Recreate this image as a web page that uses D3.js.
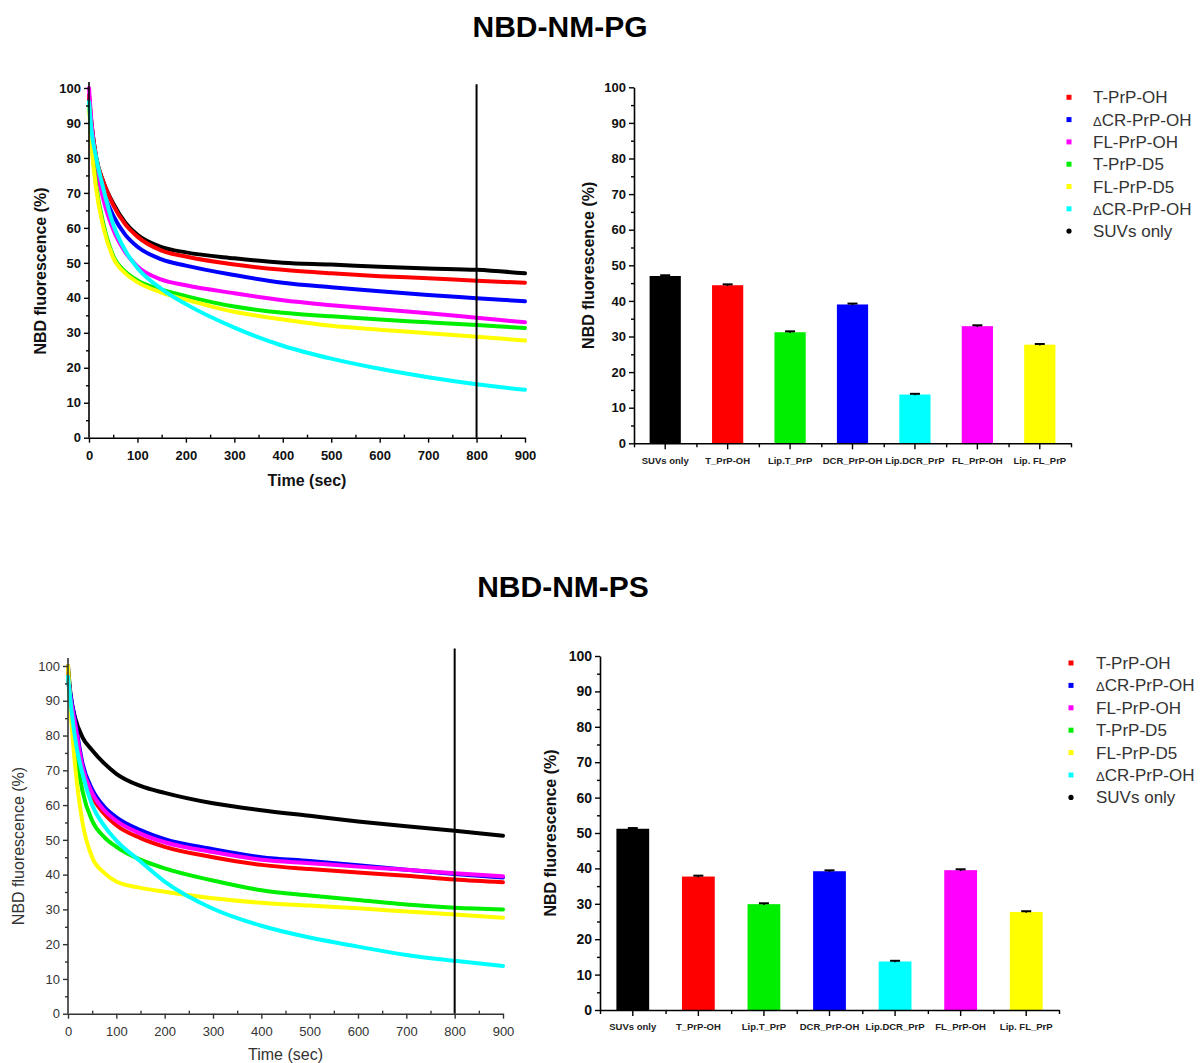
<!DOCTYPE html>
<html>
<head>
<meta charset="utf-8">
<script src="https://cdn.jsdelivr.net/npm/d3@7"></script>
<style>
  body { margin: 0; background: #fff; }
  text { font-family: "Liberation Sans", Arial, sans-serif; }
</style>
</head>
<body>
<div id="chart"></div>
<script>
/* Data */
const times = [0, 5, 15, 30, 50, 75, 100, 150, 200, 300, 400, 500, 600, 700, 800, 900];

// NBD-NM-PG kinetics
const pgSUVs   = [97, 90, 80, 73, 67, 61.5, 58, 54.5, 53, 51.3, 50, 49.5, 48.9, 48.4, 48.0, 47.0];
const pgTOH    = [98, 90, 80, 73, 66.5, 61, 57.5, 53.5, 51.8, 49.5, 48, 47, 46.2, 45.6, 44.9, 44.3];
const pgDCROH  = [96, 88, 77, 70, 63.5, 58, 54.6, 51, 49.2, 46.5, 44.3, 43.0, 41.9, 40.8, 39.9, 39.0];
const pgFLOH   = [100, 90, 78, 68, 59.5, 53, 49, 45.2, 43.6, 41.3, 39.3, 37.9, 36.7, 35.6, 34.3, 33.0];
const pgTD5    = [96, 85, 72, 61, 52, 47.5, 45, 42.3, 40.5, 37.5, 35.7, 34.7, 33.8, 33.0, 32.2, 31.4];
const pgFLD5   = [95, 84, 71, 60, 51.5, 47, 44.5, 41.5, 39.5, 36.0, 33.8, 32.0, 30.9, 29.9, 28.9, 27.8];
const pgDCRLip = [96, 88, 80, 71, 61, 53.5, 48.5, 42.5, 38.2, 31.5, 26.3, 22.6, 19.7, 17.3, 15.3, 13.7];

// NBD-NM-PS kinetics
const psSUVs   = [100, 92, 85, 79.5, 75.8, 72, 69, 65.5, 63.5, 60.5, 58.5, 56.9, 55.3, 53.9, 52.6, 51.2];
const psTOH    = [98, 91, 82, 70, 62.5, 57.5, 54.2, 50.5, 48.0, 45.0, 42.8, 41.6, 40.6, 39.7, 38.6, 37.8];
const psDCROH  = [97, 92, 84, 72, 64.5, 59.5, 56.5, 52.8, 50.2, 47.3, 45.0, 43.9, 42.7, 41.4, 40.2, 39.2];
const psFLOH   = [96, 91, 83, 71, 63.5, 58.5, 55.5, 51.8, 49.3, 46.5, 44.3, 43.3, 42.3, 41.4, 40.4, 39.5];
const psTD5    = [97, 89, 77, 64, 55.5, 50.8, 48, 44.3, 41.8, 38.3, 35.5, 34.0, 32.7, 31.4, 30.5, 30.0];
const psFLD5   = [100, 88, 71, 55, 45, 40.5, 38, 36.2, 35.1, 33.2, 31.9, 31.1, 30.3, 29.4, 28.5, 27.6];
const psDCRLip = [97, 90, 79, 69, 60, 54, 49.8, 43.8, 38.0, 30.2, 25.3, 21.9, 19.3, 16.9, 15.2, 13.7];

// end-point bars
const barCats = ["SUVs only", "T_PrP-OH", "Lip.T_PrP", "DCR_PrP-OH", "Lip.DCR_PrP", "FL_PrP-OH", "Lip. FL_PrP"];
const pgBars = [47.0, 44.4, 31.2, 39.0, 13.7, 32.9, 27.7];
const psBars = [51.2, 37.7, 29.9, 39.2, 13.7, 39.5, 27.7];
const barErr = [0.2, 0.25, 0.25, 0.25, 0.2, 0.25, 0.2];

const legendLabels = ["T-PrP-OH", "\u0394CR-PrP-OH", "FL-PrP-OH", "T-PrP-D5", "FL-PrP-D5", "\u0394CR-PrP-OH", "SUVs only"];

const lineColors = ["#000000", "#ff0000", "#0000ff", "#ff00ff", "#00ee00", "#ffff00", "#00ffff"];
const barColors = ["#000000", "#ff0000", "#00ee00", "#0000ff", "#00ffff", "#ff00ff", "#ffff00"];
const legendColors = ["#ff0000", "#0000ff", "#ff00ff", "#00ee00", "#ffff00", "#00ffff", "#000000"];

const svg = d3.select("#chart").append("svg")
  .attr("width", 1201)
  .attr("height", 1063);

/* Titles */
svg.append("text").attr("x", 560).attr("y", 37).attr("text-anchor", "middle")
  .attr("font-size", "30px").attr("font-weight", "bold").text("NBD-NM-PG");
svg.append("text").attr("x", 563).attr("y", 597).attr("text-anchor", "middle")
  .attr("font-size", "30px").attr("font-weight", "bold").text("NBD-NM-PS");

/* Kinetic line chart */
function drawLines(o) {
  const x = d3.scaleLinear().domain([0, 900]).range([o.left, o.right]);
  const y = d3.scaleLinear().domain([0, 100]).range([o.bottom, o.top]);
  const g = svg.append("g");
  const weight = o.bold ? "bold" : "normal";

  const line = d3.line()
    .x((d, i) => x(times[i]))
    .y(d => y(d))
    .curve(d3.curveMonotoneX);

  o.series.forEach((s, k) => {
    g.append("path")
      .datum(s)
      .attr("fill", "none")
      .attr("stroke", lineColors[k])
      .attr("stroke-width", 4)
      .attr("stroke-linecap", "round")
      .attr("d", line);
  });

  // marker line at 800 s
  g.append("line")
    .attr("x1", x(800)).attr("x2", x(800))
    .attr("y1", y(0)).attr("y2", y(o.markTop))
    .attr("stroke", "#000").attr("stroke-width", 2);

  // axes
  const yAx = g.append("g").attr("transform", `translate(${x(0)},0)`)
    .call(d3.axisLeft(y).tickValues(d3.range(0, 101, 10)).tickSize(5).tickSizeOuter(0));
  g.append("g").attr("transform", `translate(${x(0)},0)`)
    .call(d3.axisLeft(y).tickValues(d3.range(5, 100, 10)).tickSize(3).tickFormat(""))
    .select(".domain").remove();
  yAx.select(".domain").remove();
  g.append("line").attr("x1", x(0)).attr("x2", x(0)).attr("y1", y(0)).attr("y2", y(o.axisTop))
    .attr("stroke", o.axisColor).attr("stroke-width", 1.6);

  const xAx = g.append("g").attr("transform", `translate(0,${y(0)})`)
    .call(d3.axisBottom(x).tickValues(d3.range(0, 901, 100)).tickSize(5).tickSizeOuter(0));
  g.append("g").attr("transform", `translate(0,${y(0)})`)
    .call(d3.axisBottom(x).tickValues(d3.range(50, 900, 100)).tickSize(-3).tickFormat(""))
    .select(".domain").remove();
  xAx.select(".domain").attr("stroke-width", 1.6);

  g.selectAll(".tick line").attr("stroke", o.axisColor).attr("stroke-width", 1.4);
  g.selectAll(".domain").attr("stroke", o.axisColor);
  g.selectAll(".tick text")
    .attr("font-size", "13px")
    .attr("font-weight", weight)
    .attr("fill", o.textColor)
    .attr("font-family", "Liberation Sans, Arial, sans-serif");
  xAx.selectAll(".tick text").attr("dy", "1.1em");

  g.append("text")
    .attr("x", (o.left + o.right) / 2)
    .attr("y", o.xTitleY)
    .attr("text-anchor", "middle")
    .attr("font-size", "16px")
    .attr("font-weight", weight)
    .attr("fill", o.textColor)
    .text("Time (sec)");

  g.append("text")
    .attr("transform", `translate(${o.yTitleX},${o.yTitleMid}) rotate(-90)`)
    .attr("text-anchor", "middle")
    .attr("font-size", "16px")
    .attr("font-weight", weight)
    .attr("fill", o.textColor)
    .text("NBD fluorescence (%)");
}

/* End-point bar chart */
function drawBars(o) {
  const x = d3.scaleBand().domain(barCats).range([o.left, o.right])
    .paddingInner(0.5).paddingOuter(0.25);
  const y = d3.scaleLinear().domain([0, 100]).range([o.bottom, o.top]);
  const g = svg.append("g");

  g.selectAll(".bar")
    .data(o.values)
    .enter()
    .append("rect")
    .attr("x", (d, i) => x(barCats[i]))
    .attr("width", x.bandwidth())
    .attr("y", d => y(d))
    .attr("height", d => y(0) - y(d))
    .attr("fill", (d, i) => barColors[i]);

  // error bars
  o.values.forEach((d, i) => {
    const cx = x(barCats[i]) + x.bandwidth() / 2;
    g.append("line").attr("x1", cx).attr("x2", cx)
      .attr("y1", y(d - barErr[i])).attr("y2", y(d + barErr[i]))
      .attr("stroke", "#000").attr("stroke-width", 1.5);
    g.append("line").attr("x1", cx - 5).attr("x2", cx + 5)
      .attr("y1", y(d + barErr[i])).attr("y2", y(d + barErr[i]))
      .attr("stroke", "#000").attr("stroke-width", 2);
  });

  const yAx = g.append("g").attr("transform", `translate(${o.left},0)`)
    .call(d3.axisLeft(y).tickValues(d3.range(0, 101, 10)).tickSize(5).tickSizeOuter(0));
  g.append("g").attr("transform", `translate(${o.left},0)`)
    .call(d3.axisLeft(y).tickValues(d3.range(5, 100, 10)).tickSize(3).tickFormat(""))
    .select(".domain").remove();

  const xAx = g.append("g").attr("transform", `translate(0,${y(0)})`)
    .call(d3.axisBottom(x).tickSize(6).tickSizeOuter(0));
  // ticks between categories
  const bounds = d3.range(0, barCats.length + 1).map(k => o.left + k * x.step());
  g.append("g").attr("transform", `translate(0,${y(0)})`)
    .call(d3.axisBottom(d3.scaleLinear().domain([o.left, o.right]).range([o.left, o.right]))
      .tickValues(bounds).tickSize(4).tickFormat(""))
    .select(".domain").remove();

  g.selectAll(".domain").attr("stroke", "#000").attr("stroke-width", 1.6);
  g.selectAll(".tick line").attr("stroke", "#000").attr("stroke-width", 1.4);
  yAx.selectAll(".tick text")
    .attr("font-size", o.tickSize)
    .attr("font-weight", "bold")
    .attr("fill", "#111")
    .attr("font-family", "Liberation Sans, Arial, sans-serif");
  xAx.selectAll(".tick text")
    .attr("font-size", "9.5px")
    .attr("font-weight", "bold")
    .attr("fill", "#222")
    .attr("dy", "1.2em")
    .attr("font-family", "Liberation Sans, Arial, sans-serif");

  g.append("text")
    .attr("transform", `translate(${o.yTitleX},${(o.top + o.bottom) / 2}) rotate(-90)`)
    .attr("text-anchor", "middle")
    .attr("font-size", "16px")
    .attr("font-weight", "bold")
    .attr("fill", "#111")
    .text("NBD fluorescence (%)");
}

/* Legend */
function drawLegend(mx, tx, y0, step) {
  const g = svg.append("g");
  legendLabels.forEach((label, i) => {
    const yy = y0 + i * step;
    if (i === legendLabels.length - 1) {
      g.append("circle").attr("cx", mx).attr("cy", yy).attr("r", 2.6).attr("fill", legendColors[i]);
    } else {
      g.append("rect").attr("x", mx - 2.5).attr("y", yy - 2.5).attr("width", 5).attr("height", 5)
        .attr("fill", legendColors[i]);
    }
    const t = g.append("text").attr("x", tx).attr("y", yy + 6)
      .attr("font-size", "17px").attr("fill", "#333");
    if (label.startsWith("\u0394")) {
      t.append("tspan").attr("font-size", "13px").text("\u0394");
      t.append("tspan").text(label.slice(1));
    } else {
      t.text(label);
    }
  });
}

drawLines({
  series: [pgSUVs, pgTOH, pgDCROH, pgFLOH, pgTD5, pgFLD5, pgDCRLip],
  left: 89, right: 525, top: 88, bottom: 437.7,
  axisTop: 101.7, markTop: 101.1,
  bold: true, axisColor: "#000", textColor: "#111",
  xTitleY: 486, yTitleX: 46, yTitleMid: 271
});

drawLines({
  series: [psSUVs, psTOH, psDCROH, psFLOH, psTD5, psFLD5, psDCRLip],
  left: 68, right: 503, top: 666, bottom: 1013.7,
  axisTop: 102.3, markTop: 105,
  bold: false, axisColor: "#333", textColor: "#333",
  xTitleY: 1060, yTitleX: 24, yTitleMid: 846
});

drawBars({
  values: pgBars, left: 634, right: 1071, top: 87.3, bottom: 443.3,
  tickSize: "13px", yTitleX: 594
});

drawBars({
  values: psBars, left: 600, right: 1059, top: 656, bottom: 1010,
  tickSize: "14px", yTitleX: 556
});

drawLegend(1069, 1093, 97.3, 22.3);
drawLegend(1071, 1096, 663, 22.4);
</script>
</body>
</html>
